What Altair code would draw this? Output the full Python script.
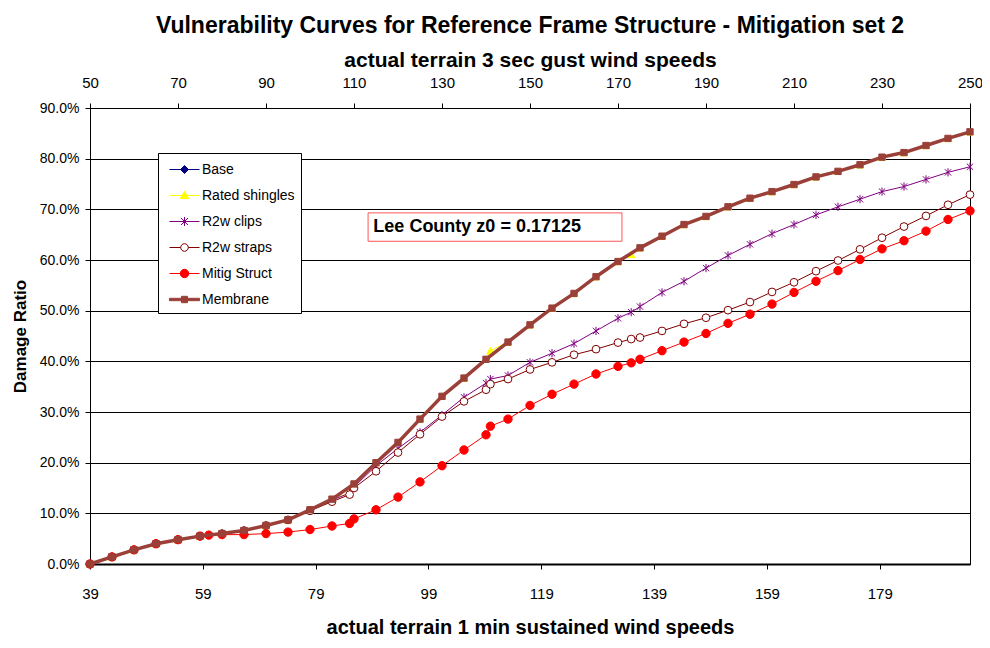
import altair as alt
import pandas as pd

FONT = "Liberation Sans"

series_names = ["Base", "Rated shingles", "R2w clips", "R2w straps", "Mitig Struct", "Membrane"]
line_colors = ["#000080", "#FFFF00", "#800080", "#800000", "#FF0000", "#9B4038"]
fill_colors = ["#000080", "#FFFF00", "#800080", "#FFFFFF", "#FF0000", "#9B4038"]

# 3-sec gust speeds, every 5 mph
grid = list(range(50, 251, 5))

membrane_vals = [0.0, 1.4, 2.8, 4.0, 4.8, 5.5, 6.0, 6.6, 7.6, 8.7, 10.7, 12.8, 15.8, 20.0, 24.0,
                 28.6, 33.1, 36.7, 40.4, 43.8, 47.2, 50.5, 53.4, 56.7, 59.7, 62.4, 64.7, 67.0,
                 68.6, 70.5, 72.2, 73.5, 74.9, 76.4, 77.5, 78.8, 80.3, 81.2, 82.6, 84.0, 85.3]
base_vals = [0.0, 1.4, 2.8, 4.0, 4.8, 5.5, 6.0, 6.6, 7.6, 8.7, 10.7, 12.8, 15.8, 20.0, 24.0,
             28.6, 33.1, 36.7, 40.4, 43.8, 47.2, 50.5, 53.4, 56.7, 59.7, 62.4, 64.7, 67.0,
             68.6, 70.5, 72.2, 73.5, 74.9, 76.4, 77.5, 78.8, 80.3, 81.2, 82.6, 84.0, 85.3]
rated_vals = [0.0, 1.4, 2.8, 4.0, 4.8, 5.5, 6.0, 6.6, 7.6, 8.7, 10.7, 12.8, 15.8, 20.0, 24.0,
              28.6, 33.1, 36.7, 40.4, 43.8, 47.2, 50.5, 53.4, 56.7, 59.7, 62.4, 64.7, 67.0,
              68.6, 70.5, 72.2, 73.5, 74.9, 76.4, 77.5, 78.8, 80.3, 81.2, 82.6, 84.0, 85.3]
clips_vals = [0.0, 1.4, 2.8, 4.0, 4.8, 5.5, 6.0, 6.6, 7.6, 8.7, 10.6, 12.6, 15.2, 19.4, 22.8,
              26.0, 29.4, 32.9, 35.7, 37.2, 39.8, 41.6, 43.5, 46.0, 48.5, 50.8, 53.6, 55.8,
              58.4, 60.9, 63.1, 65.2, 67.0, 68.9, 70.5, 72.0, 73.5, 74.5, 75.9, 77.3, 78.4]
straps_vals = [0.0, 1.4, 2.8, 4.0, 4.8, 5.5, 6.0, 6.6, 7.6, 8.7, 10.5, 12.3, 15.0, 18.3, 22.0,
               25.6, 29.1, 32.1, 34.4, 36.5, 38.4, 39.8, 41.3, 42.4, 43.7, 44.7, 46.0, 47.4,
               48.6, 50.1, 51.7, 53.7, 55.6, 57.8, 59.9, 62.1, 64.4, 66.6, 68.7, 70.9, 72.9]
mitig_vals = [0.0, 1.4, 2.8, 4.0, 4.8, 5.5, 5.8, 5.8, 6.0, 6.3, 6.8, 7.5, 8.9, 10.7, 13.2,
              16.2, 19.4, 22.5, 25.5, 28.6, 31.3, 33.5, 35.5, 37.5, 39.0, 40.4, 42.1, 43.8,
              45.5, 47.5, 49.3, 51.3, 53.6, 55.8, 57.9, 60.1, 62.2, 63.8, 65.7, 68.0, 69.7]

# extra points off the 5-mph grid
base_extra_speeds, base_extra_vals = [], []
rated_extra_speeds, rated_extra_vals = [109, 141, 173], [14.0, 42.1, 61.1]
clips_extra_speeds, clips_extra_vals = [109, 141, 173], [14.0, 36.5, 49.7]
straps_extra_speeds, straps_extra_vals = [109, 141, 173], [13.7, 35.5, 44.4]
mitig_extra_speeds, mitig_extra_vals = [77, 109, 141, 173], [5.7, 8.0, 27.2, 39.7]
membrane_extra_speeds, membrane_extra_vals = [], []

sust_ticks = [39, 59, 79, 99, 119, 139, 159, 179]
gust_ticks = [50, 70, 90, 110, 130, 150, 170, 190, 210, 230, 250]
y_ticks = [0.0, 0.1, 0.2, 0.3, 0.4, 0.5, 0.6, 0.7, 0.8, 0.9]
SUST_PER_GUST = 0.78

note_text = ["Lee County  z0 = 0.17125"]
note_box = {"x0": [113.2], "x1": [170.9], "y0": [0.637], "y1": [0.693], "tx": [114.4], "ty": [0.665]}

series_data = [
    (base_vals, base_extra_speeds, base_extra_vals),
    (rated_vals, rated_extra_speeds, rated_extra_vals),
    (clips_vals, clips_extra_speeds, clips_extra_vals),
    (straps_vals, straps_extra_speeds, straps_extra_vals),
    (mitig_vals, mitig_extra_speeds, mitig_extra_vals),
    (membrane_vals, membrane_extra_speeds, membrane_extra_vals),
]

rows = []
for name, (vals, es, ev) in zip(series_names, series_data):
    for s, v in list(zip(grid, vals)) + list(zip(es, ev)):
        rows.append({"series": name, "gust": s, "ratio": v / 100.0})
df = pd.DataFrame(rows)

xscale = alt.Scale(domain=[50, 250], nice=False, zero=False)
yscale = alt.Scale(domain=[0, 0.9], nice=False)

bottom_axis = alt.Axis(
    orient="bottom", values=[s / SUST_PER_GUST for s in sust_ticks],
    labelExpr="format(round(datum.value*0.78), 'd')",
    title="actual terrain 1 min sustained wind speeds",
    titleFont=FONT, titleFontSize=20, titleFontWeight="bold", titleColor="black",
    labelFont=FONT, labelFontSize=15, labelColor="black", labelPadding=17,
    titlePadding=16, tickSize=5, tickColor="black", domainColor="black",
    domainWidth=2, grid=False, labelFlush=False, labelOverlap=False)

top_axis = alt.Axis(
    orient="top", values=gust_ticks, format="d",
    title="actual terrain 3 sec gust wind speeds",
    titleFont=FONT, titleFontSize=21, titleFontWeight="bold", titleColor="black",
    labelFont=FONT, labelFontSize=15, labelColor="black", labelPadding=13,
    titlePadding=5, tickSize=5, tickColor="black", domainColor="black",
    grid=False, labelFlush=False, labelOverlap=False)

y_axis = alt.Axis(
    values=y_ticks, format=".1%", title="Damage Ratio",
    titleFont=FONT, titleFontSize=17, titleFontWeight="bold", titleColor="black",
    labelFont=FONT, labelFontSize=14, labelColor="black", labelPadding=6,
    titlePadding=10, tickSize=5, tickColor="black", domainColor="black",
    grid=True, gridColor="black", gridWidth=1, gridOpacity=1)

X_none = alt.X("gust:Q", scale=xscale, axis=None)
Y = alt.Y("ratio:Q", scale=yscale, axis=y_axis)

asterisk = "M-1,-1L1,1M-1,1L1,-1M0,-1.3V1.3"
marker_specs = [
    dict(shape="diamond", filled=True, fill="#000080", stroke="#000080", size=30),
    dict(shape="triangle-up", filled=True, fill="#FFFF00", stroke="#FFFF00", size=55),
    dict(shape=asterisk, filled=False, stroke="#800080", size=40),
    dict(shape="circle", filled=True, fill="#FFFFFF", stroke="#800000", size=60),
    dict(shape="circle", filled=True, fill="#FF0000", stroke="#FF0000", size=70),
    dict(shape="square", filled=True, fill="#9B4038", stroke="#9B4038", size=40),
]
line_widths = [1, 1, 1, 1, 1, 3.5]

layers = []
for i, name in enumerate(series_names):
    sub = df[df["series"] == name].sort_values("gust")
    if i == 0:
        xl = alt.X("gust:Q", scale=xscale, axis=bottom_axis)
        xp = alt.X("gust:Q", scale=xscale, axis=top_axis)
    else:
        xl = X_none
        xp = X_none
    line = alt.Chart(sub).mark_line(color=line_colors[i], strokeWidth=line_widths[i]).encode(
        x=xl, y=Y, order="gust:Q")
    pts = alt.Chart(sub).mark_point(opacity=1, strokeWidth=1, **marker_specs[i]).encode(x=xp, y=Y)
    layers += [line, pts]

# legend (symbols combine line + marker)
legend_paths = [
    "M-0.5,0H2.5M1,-0.4L1.4,0L1,0.4L0.6,0Z",
    "M-0.5,0H2.5M1,-0.42L1.42,0.3H0.58Z",
    "M-0.5,0H2.5M0.65,-0.35L1.35,0.35M0.65,0.35L1.35,-0.35M1,-0.45V0.45",
    "M-0.5,0H0.62M1.38,0H2.5M1.38,0A0.38,0.38 0 1,1 0.62,0A0.38,0.38 0 1,1 1.38,0Z",
    "M-0.5,0H2.5M1.42,0A0.42,0.42 0 1,1 0.58,0A0.42,0.42 0 1,1 1.42,0Z",
    "M-0.5,-0.12H2.5V0.12H-0.5ZM0.7,-0.32H1.3V0.32H0.7Z",
]
leg = alt.Legend(orient="none", legendX=68, legendY=45, title=None, direction="vertical",
                 padding=6, rowPadding=8, labelOffset=17, labelFont=FONT, labelFontSize=14,
                 labelColor="black", strokeColor="black", fillColor="white",
                 symbolSize=400, symbolStrokeWidth=1, symbolOpacity=1,
                 symbolFillColor="white", labelLimit=300)
legend_layer = alt.Chart(df).transform_filter("datum.gust < 0").mark_point(
    filled=False, size=400, strokeWidth=1).encode(
    x=X_none, y=Y,
    shape=alt.Shape("series:N", scale=alt.Scale(domain=series_names, range=legend_paths), legend=leg),
    fill=alt.Fill("series:N", scale=alt.Scale(domain=series_names, range=fill_colors), legend=leg),
    stroke=alt.Stroke("series:N", scale=alt.Scale(domain=series_names, range=line_colors), legend=leg),
)

note_df = pd.DataFrame({**note_box, "label": note_text})
note_rect = alt.Chart(note_df).mark_rect(fill="white", stroke="#FF5555", strokeWidth=1).encode(
    x=alt.X("x0:Q", scale=xscale, axis=None), x2="x1:Q",
    y=alt.Y("y0:Q", scale=yscale, axis=y_axis), y2="y1:Q")
note_txt = alt.Chart(note_df).mark_text(align="left", baseline="middle", font=FONT, fontSize=18,
                                        fontWeight="bold", color="black").encode(
    x=alt.X("tx:Q", scale=xscale, axis=None), y=alt.Y("ty:Q", scale=yscale, axis=y_axis),
    text="label:N")

chart = alt.layer(*layers, note_rect, note_txt, legend_layer).resolve_axis(
    x="independent").properties(
    width=880, height=456,
    padding={"left": 82, "top": 100, "right": 12, "bottom": 76},
    autosize=alt.AutoSizeParams(type="none"),
    background="white",
    title=alt.Title("Vulnerability Curves for Reference Frame Structure - Mitigation set 2",
                    font=FONT, fontSize=23, fontWeight="bold", color="black",
                    anchor="middle", offset=11),
).configure_view(stroke="black", strokeWidth=1)

chart.save("out.html", embed_options={"renderer": "svg", "actions": False})
